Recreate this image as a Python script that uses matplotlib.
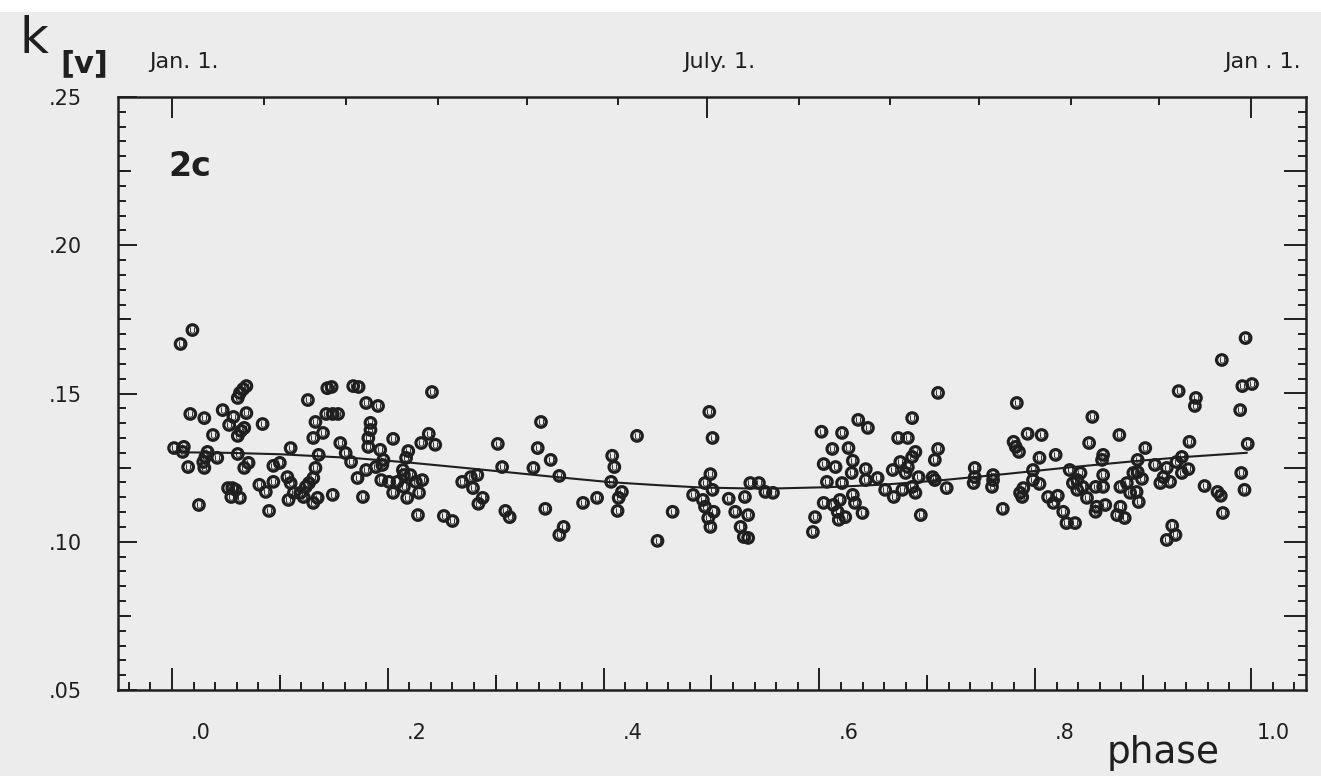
import matplotlib.pyplot as plt
import numpy as np
from matplotlib.transforms import ScaledTranslation
from matplotlib.patches import Rectangle

# observed extinction k[V] against phase of the year
phase = np.array([
    0.019, 0.008, 0.069, 0.066, 0.063, 0.061, 0.017, 0.030, 0.047, 0.057,
    0.069, 0.053, 0.067, 0.064, 0.061, 0.084, 0.038, 0.126, 0.144, 0.148,
    0.168, 0.133, 0.140, 0.131, 0.143, 0.149, 0.154, 0.156, 0.161, 0.166,
    0.002, 0.011, 0.010, 0.033, 0.031, 0.029, 0.030, 0.042, 0.015, 0.061,
    0.071, 0.067, 0.110, 0.094, 0.100, 0.136, 0.133, 0.131, 0.094, 0.107,
    0.110, 0.081, 0.087, 0.052, 0.056, 0.059, 0.055, 0.063, 0.108, 0.113,
    0.119, 0.124, 0.127, 0.122, 0.131, 0.135, 0.149, 0.025, 0.090,
    0.173, 0.241, 0.180, 0.191, 0.184, 0.184, 0.182, 0.182, 0.205, 0.238,
    0.231, 0.244, 0.193, 0.219, 0.217, 0.196, 0.195, 0.189, 0.180, 0.172,
    0.214, 0.215, 0.221, 0.194, 0.201, 0.209, 0.226, 0.232, 0.205, 0.215,
    0.229, 0.218, 0.177, 0.228, 0.252, 0.260, 0.269, 0.277, 0.283, 0.279,
    0.288, 0.284, 0.302, 0.306, 0.309, 0.313, 0.342, 0.339, 0.335, 0.346, 0.351,
    0.359, 0.381, 0.394, 0.363, 0.359, 0.408, 0.410, 0.407, 0.417, 0.414,
    0.413, 0.431, 0.464, 0.450, 0.498, 0.501, 0.499, 0.494, 0.501, 0.483,
    0.492, 0.494, 0.502, 0.497, 0.499, 0.516, 0.522, 0.527, 0.530, 0.531,
    0.710, 0.536, 0.544, 0.534, 0.534, 0.550, 0.557, 0.602, 0.621, 0.612,
    0.627, 0.604, 0.615, 0.631, 0.630, 0.607, 0.621, 0.643, 0.643, 0.654,
    0.604, 0.613, 0.619, 0.631, 0.633, 0.617, 0.618, 0.624, 0.640, 0.596,
    0.594, 0.636, 0.645, 0.686, 0.673, 0.682, 0.689, 0.686, 0.668, 0.675,
    0.682, 0.680, 0.692, 0.705, 0.707, 0.661, 0.669, 0.677, 0.686, 0.689,
    0.694, 0.710, 0.707,
    0.783, 0.853, 0.878, 0.793, 0.806, 0.780, 0.782, 0.785, 0.819, 0.804,
    0.850, 0.863, 0.862, 0.744, 0.744, 0.743, 0.761, 0.761, 0.760, 0.718,
    0.798, 0.798, 0.804, 0.789, 0.786, 0.788, 0.812, 0.821, 0.817, 0.770,
    0.826, 0.829, 0.837, 0.832, 0.842, 0.839, 0.835, 0.844, 0.839, 0.848,
    0.863, 0.856, 0.863, 0.857, 0.865, 0.856, 0.879, 0.885, 0.888, 0.879,
    0.876, 0.883, 0.891,
    0.995, 0.973, 0.992, 1.001, 0.933, 0.949, 0.948, 0.990, 0.943, 0.997,
    0.902, 0.895, 0.895, 0.899, 0.894, 0.896, 0.911, 0.922, 0.931, 0.936,
    0.942, 0.936, 0.919, 0.916, 0.925, 0.991, 0.957, 0.969, 0.972, 0.994,
    0.974, 0.927, 0.930, 0.922])

kv = np.array([
    0.1714, 0.1667, 0.1525, 0.1515, 0.1502, 0.1485, 0.1431, 0.1417, 0.1444, 0.1421,
    0.1434, 0.1394, 0.1384, 0.1374, 0.1357, 0.1397, 0.1360, 0.1478, 0.1518, 0.1522,
    0.1525, 0.1404, 0.1367, 0.1350, 0.1431, 0.1431, 0.1431, 0.1333, 0.1299, 0.1269,
    0.1316, 0.1320, 0.1303, 0.1303, 0.1286, 0.1269, 0.1249, 0.1283, 0.1252, 0.1296,
    0.1266, 0.1249, 0.1316, 0.1256, 0.1266, 0.1293, 0.1249, 0.1215, 0.1202, 0.1218,
    0.1198, 0.1192, 0.1168, 0.1181, 0.1181, 0.1175, 0.1151, 0.1148, 0.1141, 0.1165,
    0.1165, 0.1185, 0.1198, 0.1151, 0.1131, 0.1148, 0.1158, 0.1124, 0.1104,
    0.1522, 0.1505, 0.1468, 0.1458, 0.1401, 0.1377, 0.1350, 0.1320, 0.1347, 0.1364,
    0.1333, 0.1327, 0.1310, 0.1306, 0.1283, 0.1276, 0.1259, 0.1252, 0.1242, 0.1215,
    0.1242, 0.1225, 0.1225, 0.1208, 0.1202, 0.1202, 0.1202, 0.1208, 0.1165, 0.1185,
    0.1165, 0.1148, 0.1151, 0.1090, 0.1087, 0.1070, 0.1202, 0.1218, 0.1225, 0.1181,
    0.1148, 0.1128, 0.1330, 0.1252, 0.1104, 0.1083, 0.1404, 0.1316, 0.1249, 0.1111, 0.1276,
    0.1222, 0.1131, 0.1148, 0.1050, 0.1023, 0.1290, 0.1252, 0.1202, 0.1168, 0.1148,
    0.1104, 0.1357, 0.1101, 0.1003, 0.1438, 0.1350, 0.1228, 0.1198, 0.1175, 0.1158,
    0.1141, 0.1118, 0.1101, 0.1080, 0.1050, 0.1145, 0.1101, 0.1050, 0.1016, 0.1151,
    0.1502, 0.1198, 0.1198, 0.1090, 0.1013, 0.1168, 0.1165, 0.1371, 0.1367, 0.1313,
    0.1316, 0.1262, 0.1252, 0.1273, 0.1232, 0.1202, 0.1198, 0.1245, 0.1208, 0.1215,
    0.1131, 0.1124, 0.1141, 0.1158, 0.1131, 0.1101, 0.1074, 0.1083, 0.1097, 0.1083,
    0.1033, 0.1411, 0.1384, 0.1417, 0.1350, 0.1350, 0.1303, 0.1286, 0.1242, 0.1269,
    0.1252, 0.1232, 0.1218, 0.1218, 0.1208, 0.1175, 0.1151, 0.1175, 0.1185, 0.1165,
    0.1090, 0.1313, 0.1276,
    0.1468, 0.1421, 0.1360, 0.1364, 0.1360, 0.1337, 0.1320, 0.1303, 0.1293, 0.1283,
    0.1333, 0.1293, 0.1276, 0.1249, 0.1218, 0.1198, 0.1225, 0.1208, 0.1185, 0.1181,
    0.1242, 0.1208, 0.1195, 0.1181, 0.1165, 0.1151, 0.1151, 0.1155, 0.1131, 0.1111,
    0.1101, 0.1063, 0.1063, 0.1242, 0.1232, 0.1208, 0.1198, 0.1185, 0.1175, 0.1148,
    0.1225, 0.1185, 0.1185, 0.1118, 0.1124, 0.1101, 0.1185, 0.1198, 0.1165, 0.1118,
    0.1090, 0.1080, 0.1232,
    0.1687, 0.1613, 0.1525, 0.1532, 0.1508, 0.1485, 0.1458, 0.1444, 0.1337, 0.1330,
    0.1316, 0.1276, 0.1235, 0.1212, 0.1168, 0.1134, 0.1259, 0.1249, 0.1269, 0.1286,
    0.1245, 0.1232, 0.1218, 0.1198, 0.1202, 0.1232, 0.1188, 0.1168, 0.1155, 0.1175,
    0.1097, 0.1054, 0.1023, 0.1006])

# fitted annual curve
fit_phase = [0.002, 0.05, 0.101, 0.170, 0.22, 0.263, 0.31, 0.351, 0.406, 0.45,
             0.490, 0.531, 0.562, 0.608, 0.661, 0.712, 0.774, 0.832, 0.893,
             0.939, 0.996]
fit_k = [0.1302, 0.1300, 0.1295, 0.1282, 0.1267, 0.1252, 0.1235, 0.1220,
         0.1201, 0.1191, 0.1183, 0.1180, 0.1180, 0.1184, 0.1193, 0.1207,
         0.1229, 0.1251, 0.1272, 0.1286, 0.1300]

x_ticks = [0.0, 0.2, 0.4, 0.6, 0.8, 1.0]
x_labels = ['.0', '.2', '.4', '.6', '.8', '1.0']
y_ticks = [0.05, 0.10, 0.15, 0.20, 0.25]
y_labels = ['.05', '.10', '.15', '.20', '.25']
month_days = [0, 31, 59, 90, 120, 151, 181, 212, 243, 273, 304, 334, 365]
date_days = [0, 181, 365]
date_labels = ['Jan. 1.', 'July. 1.', 'Jan . 1.']

ink = '#1f1f1f'
paper = '#ececec'

fig = plt.figure(figsize=(13.21, 7.76), dpi=100, facecolor=paper)
fig.add_artist(Rectangle((0, 1 - 12 / 776), 1, 12 / 776, transform=fig.transFigure,
                         color='white', lw=0))
ax = fig.add_axes([118 / 1321, 86 / 776, 1188 / 1321, 593 / 776])
ax.set_facecolor(paper)
ax.set_xlim(-0.05, 1.051)
ax.set_ylim(0.05, 0.25)
for sp in ax.spines.values():
    sp.set_linewidth(1.8)
    sp.set_color(ink)

# data and fit
ax.plot(fit_phase, fit_k, color=ink, lw=1.5, zorder=2)
ax.scatter(phase, kv, s=58, facecolors='none', edgecolors=ink, linewidths=2.3, zorder=3)
ax.scatter(phase, kv, s=20, marker='$\\cup$', color=ink, linewidths=0, zorder=4)

# bottom axis
ax.set_xticks(x_ticks)
ax.set_xticklabels(x_labels)
ax.set_xticks(np.arange(-0.04, 1.05, 0.02), minor=True)
ax.tick_params(axis='x', which='major', direction='in', length=16, width=1.4,
               pad=24, labelsize=15, colors=ink, top=False)
ax.tick_params(axis='x', which='minor', direction='in', length=6, width=1.4,
               colors=ink, top=False)
for lab in ax.get_xticklabels():
    lab.set_horizontalalignment('right')
    lab.set_transform(lab.get_transform() + ScaledTranslation(0.39, 0, fig.dpi_scale_trans))
mid = ax.secondary_xaxis('bottom')
mid.set_xticks([0.1, 0.3, 0.5, 0.7, 0.9])
mid.tick_params(direction='in', length=11, width=1.4, colors=ink, labelbottom=False)
mid.spines['bottom'].set_visible(False)

# left axis
ax.set_yticks(y_ticks)
ax.set_yticklabels(y_labels)
ax.set_yticks(np.arange(0.055, 0.25, 0.005), minor=True)
ax.tick_params(axis='y', which='major', direction='in', length=14, width=1.4,
               pad=26, labelsize=15, colors=ink, right=False)
ax.tick_params(axis='y', which='minor', direction='in', length=5.5, width=1.4,
               colors=ink, right=False)
ymid = ax.secondary_yaxis('left')
ymid.set_yticks([0.075, 0.125, 0.175, 0.225])
ymid.tick_params(direction='in', length=9, width=1.4, colors=ink, labelleft=False)
ymid.spines['left'].set_visible(False)

# right axis
yr = ax.secondary_yaxis('right')
yr.set_yticks(np.arange(0.075, 0.25, 0.025))
yr.set_yticks(np.arange(0.055, 0.25, 0.005), minor=True)
yr.tick_params(which='major', direction='in', length=16, width=1.4, colors=ink,
               labelright=False)
yr.tick_params(which='minor', direction='in', length=5.5, width=1.4, colors=ink)
yr.spines['right'].set_visible(False)

# top axis: calendar
top = ax.secondary_xaxis('top')
top.set_xticks([d / 365 for d in date_days])
top.set_xticklabels(date_labels)
top.set_xticks([d / 365 for d in month_days], minor=True)
top.tick_params(which='major', direction='in', length=15, width=1.4, colors=ink,
                pad=18, labelsize=16)
top.tick_params(which='minor', direction='in', length=5.5, width=1.4, colors=ink)
top.spines['top'].set_visible(False)
for lab in top.get_xticklabels():
    lab.set_transform(lab.get_transform() + ScaledTranslation(0.12, 0, fig.dpi_scale_trans))

# labels
fig.text(20 / 1321, 1 - 53 / 776, 'k', fontsize=36, color=ink, va='baseline')
fig.text(60 / 1321, 1 - 72 / 776, '[v]', fontsize=22, fontweight='bold', color=ink,
         va='baseline')
ax.text(0.042, 0.867, '2c', transform=ax.transAxes, fontsize=24, fontweight='bold',
        color=ink, va='baseline')
fig.text(1107 / 1321, 1 - 763 / 776, 'phase', fontsize=27, color=ink, va='baseline')

fig.savefig('out.png', dpi=100, facecolor=paper)
